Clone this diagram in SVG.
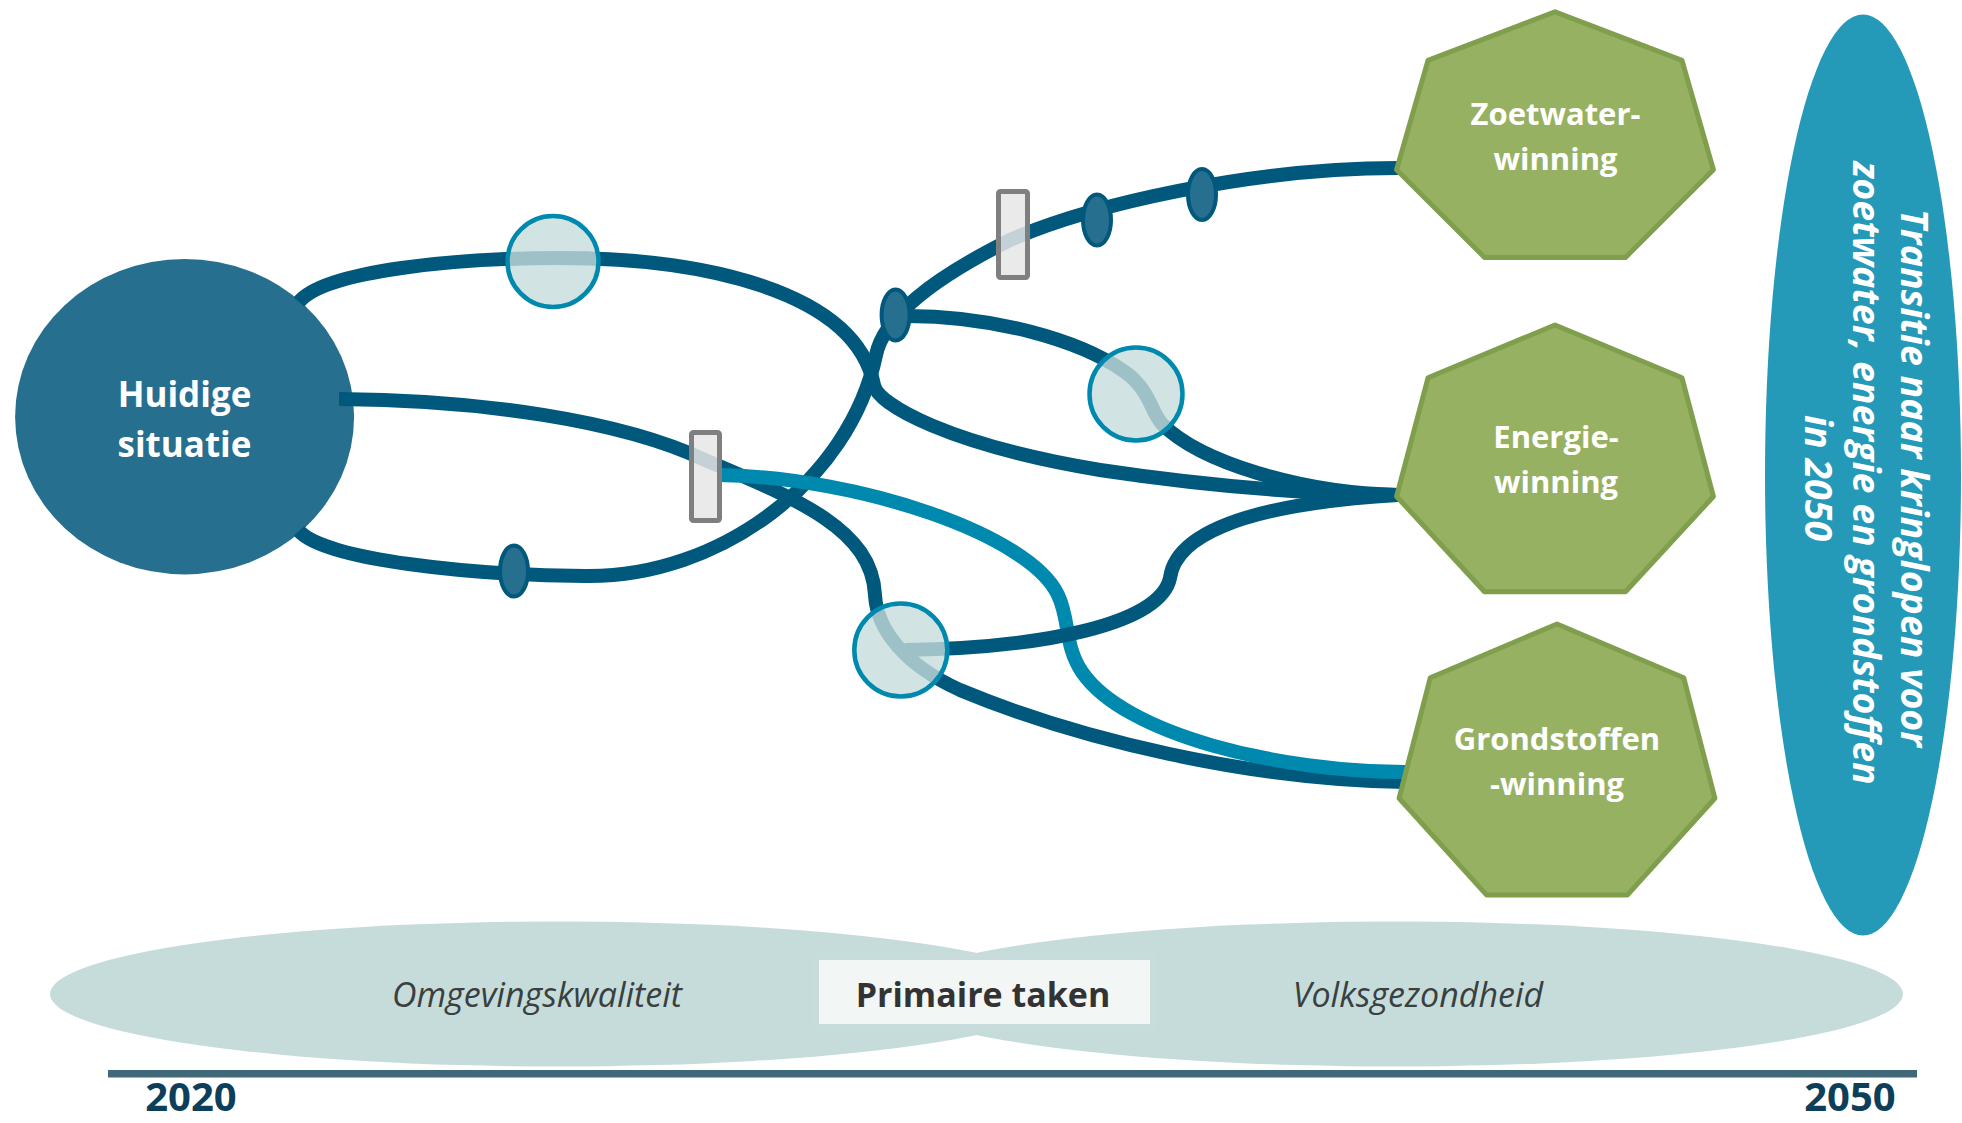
<svg xmlns="http://www.w3.org/2000/svg" width="1962" height="1123" viewBox="0 0 1962 1123">
<style>
.ln{fill:none;stroke:#00587C;stroke-width:14;stroke-linecap:butt;stroke-linejoin:round}
.lt{fill:none;stroke:#0089AE;stroke-width:14;stroke-linecap:butt}
.hept{fill:#97B162;stroke:#7F9F4D;stroke-width:5;stroke-linejoin:round}
.wt{font-family:"Open Sans","Liberation Sans",sans-serif;font-weight:bold;fill:#FFFFFF;text-anchor:middle}
.lens{fill:#C6DCDB;fill-opacity:0.8;stroke:#0089AE;stroke-width:4.5}
.dot{fill:#266F8F;stroke:#00587C;stroke-width:4}
.gate{fill:#E6E6E6;fill-opacity:0.85;stroke:#7F7F7F;stroke-width:5}
.it{font-family:"Open Sans","Liberation Sans",sans-serif;font-style:italic;font-size:34px;fill:#3A3F40;text-anchor:middle}
.yr{font-family:"Open Sans","Liberation Sans",sans-serif;font-weight:bold;font-size:40px;fill:#0D3F5A;text-anchor:middle}
</style>
<rect width="1962" height="1123" fill="#FFFFFF"/>

<g id="context">
  <ellipse cx="558" cy="994" rx="508" ry="72.5" fill="#C6DCDB"/>
  <ellipse cx="1395" cy="994" rx="508" ry="72.5" fill="#C6DCDB"/>
  <text class="it" x="537" y="1007">Omgevingskwaliteit</text>
  <text class="it" x="1418" y="1007">Volksgezondheid</text>
</g>
<g id="primaire-taken">
  <rect x="816" y="957" width="337" height="70" fill="#F5F7F7" fill-opacity="0.92" stroke="#C8DCDC" stroke-width="6"/>
  <text x="983" y="1007" font-family="'Open Sans','Liberation Sans',sans-serif" font-weight="bold" font-size="34" fill="#333333" text-anchor="middle">Primaire taken</text>
</g>
<g id="timeline">
  <rect x="108" y="1070" width="1809" height="7.5" fill="#3F6879"/>
  <text class="yr" x="191" y="1111">2020</text>
  <text class="yr" x="1850" y="1111">2050</text>
</g>

<g id="huidige-situatie">
  <ellipse cx="184.6" cy="416.7" rx="169.5" ry="157.7" fill="#266F8F"/>
  <text class="wt" font-size="35" x="184.5" y="407">Huidige</text>
  <text class="wt" font-size="35" x="184.5" y="457">situatie</text>
</g>

<g id="connectors">
  <path class="ln" d="M 299 302 C 325 270, 460 258, 560 258 C 700 258, 855 290, 874 385 C 878 405, 950 445, 1100 470 C 1200 485, 1300 494, 1398 495"/>
  <path class="ln" d="M 299 531 C 325 560, 470 575, 585 576 C 720 578, 850 480, 876 355 C 884 317, 930 280, 1010 240 C 1090 205, 1250 168, 1398 168"/>
  <path class="ln" d="M 896 316 C 990 314, 1080 340, 1125 372 C 1150 390, 1150 410, 1162 424 C 1200 462, 1300 493, 1398 495"/>
  <path class="ln" d="M 339 399 C 480 400, 620 420, 705 460 C 800 500, 872 530, 875 595 C 877 630, 905 665, 960 690 C 1080 740, 1250 780, 1405 782"/>
  <path class="lt" d="M 718 475 C 860 477, 1030 535, 1058 595 C 1070 620, 1064 645, 1082 672 C 1125 735, 1280 772, 1405 772"/>
  <path class="ln" d="M 905 650 C 1040 648, 1160 625, 1170 578 C 1175 540, 1230 505, 1398 495"/>
</g>

<g id="markers">
  <circle class="lens" cx="553" cy="261.5" r="45.5"/>
  <circle class="lens" cx="1136" cy="394" r="46.5"/>
  <circle class="lens" cx="900.8" cy="650" r="46.5"/>
  <ellipse class="dot" cx="514" cy="571" rx="14" ry="25.5"/>
  <ellipse class="dot" cx="895.6" cy="315" rx="14" ry="25.5"/>
  <ellipse class="dot" cx="1097" cy="220" rx="14" ry="25.5"/>
  <ellipse class="dot" cx="1202" cy="194.5" rx="14" ry="25.5"/>
  <rect class="gate" x="691.5" y="432.5" width="28" height="88" rx="2"/>
  <rect class="gate" x="998.5" y="191.5" width="29" height="86" rx="2"/>
</g>

<g id="zoetwaterwinning">
  <polygon class="hept" points="1555,11.8 1682,60.4 1713.4,169.7 1625.5,257.4 1484.5,257.4 1396.6,169.7 1428,60.4"/>
  <text class="wt" font-size="31" x="1555.5" y="125">Zoetwater-</text>
  <text class="wt" font-size="31" x="1555.5" y="170">winning</text>
</g>
<g id="energiewinning">
  <polygon class="hept" points="1555,325 1682,377.8 1713.4,496.5 1625.5,591.7 1484.5,591.7 1396.6,496.5 1428,377.8"/>
  <text class="wt" font-size="31" x="1556" y="448">Energie-</text>
  <text class="wt" font-size="31" x="1556" y="493">winning</text>
</g>
<g id="grondstoffenwinning">
  <polygon class="hept" points="1557,624 1683.7,677.7 1714.9,798.3 1627.3,895.1 1486.7,895.1 1399.1,798.3 1430.3,677.7"/>
  <text class="wt" font-size="31" x="1557" y="750">Grondstoffen</text>
  <text class="wt" font-size="31" x="1557" y="795">-winning</text>
</g>

<g id="transitie-2050">
  <ellipse cx="1863" cy="475" rx="98" ry="460.5" fill="#2599B8"/>
  <g transform="translate(1864,476) rotate(90)">
    <text class="wt" font-size="37.5" font-style="italic" x="2" y="-37">Transitie naar kringlopen  voor</text>
    <text class="wt" font-size="37.5" font-style="italic" x="-3" y="11">zoetwater, energie en grondstoffen</text>
    <text class="wt" font-size="37.5" font-style="italic" x="2" y="59">in 2050</text>
  </g>
</g>
</svg>
